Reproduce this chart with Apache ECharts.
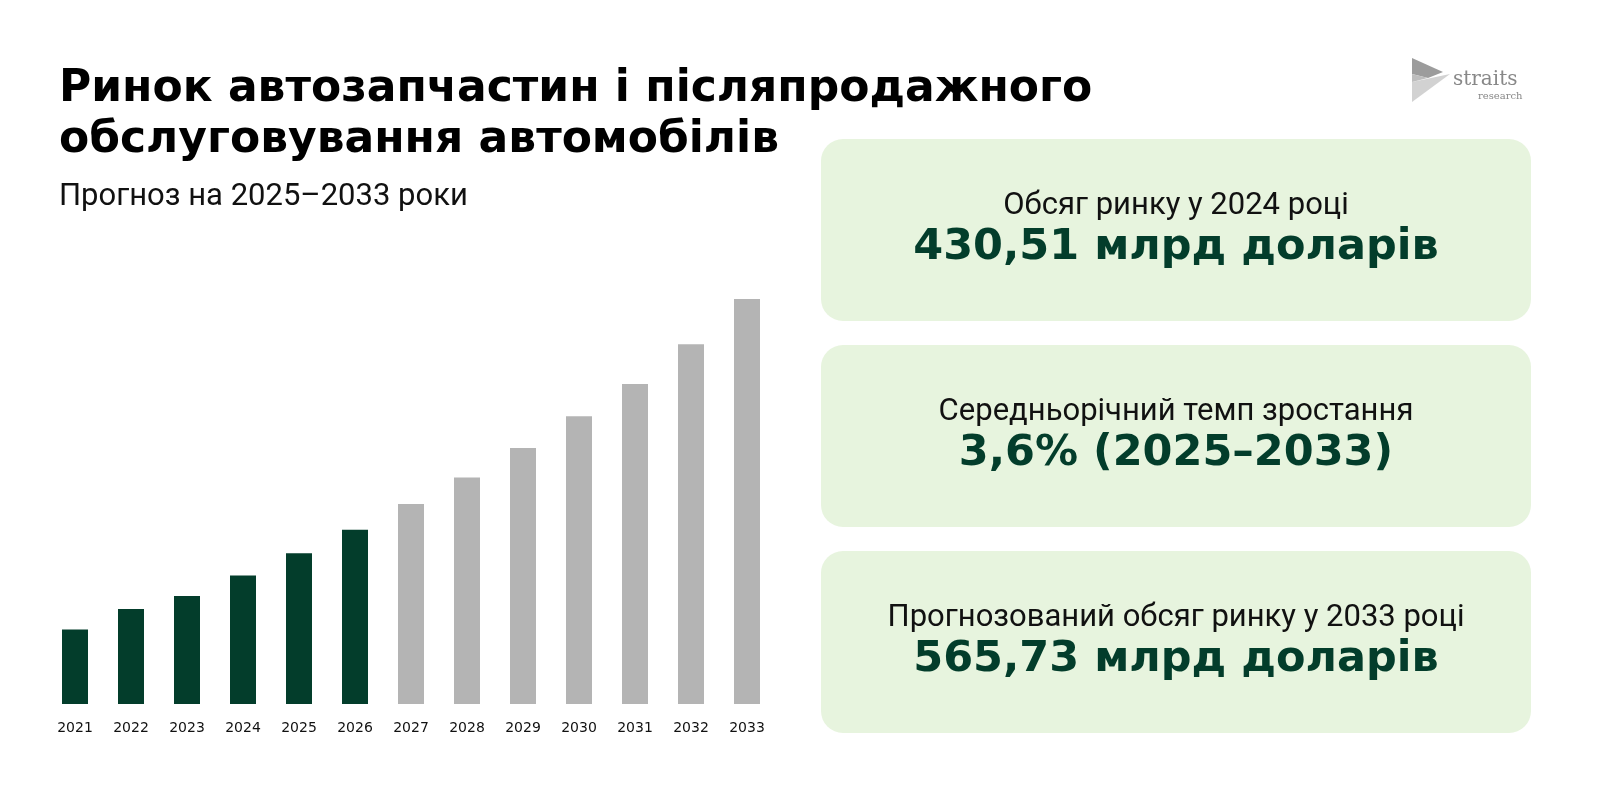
<!DOCTYPE html>
<html lang="uk">
<head>
<meta charset="utf-8">
<title>Ринок автозапчастин</title>
<script src="https://cdn.jsdelivr.net/npm/echarts@6/dist/echarts.min.js"></script>
<style>
  html, body { margin: 0; padding: 0; background: #ffffff; }
  #chart { width: 1600px; height: 795px; }
</style>
</head>
<body>
<div id="chart"></div>
<script>
// years on the x axis
const years = ['2021', '2022', '2023', '2024', '2025', '2026', '2027', '2028', '2029', '2030', '2031', '2032', '2033'];
// market size, USD bn (2024 and 2033 given, the rest)
const marketSize = [404.0, 414.1, 420.4, 430.51, 441.4, 452.9, 465.4, 478.4, 492.8, 508.4, 524.1, 543.6, 565.73];
// first forecast year (bars from here are grey)
const forecastFrom = '2027';

const cardLabels = ['Обсяг ринку у 2024 році', 'Середньорічний темп зростання', 'Прогнозований обсяг ринку у 2033 році'];
const cardValues = ['430,51 млрд доларів', '3,6% (2025–2033)', '565,73 млрд доларів'];

const GREEN = '#033d2b';
const GREY = '#b4b4b4';
const CARD_BG = '#e7f4de';

const chart = echarts.init(document.getElementById('chart'));

const forecastIdx = years.indexOf(forecastFrom);

// info cards on the right
const cardGraphics = [];
cardLabels.forEach((label, i) => {
  const top = 139 + i * 206;
  cardGraphics.push({
    type: 'rect',
    shape: { x: 821, y: top, width: 710, height: 182, r: 22 },
    style: { fill: CARD_BG }
  });
  cardGraphics.push({
    type: 'text',
    style: {
      x: 1176, y: top + 67, text: label,
      fill: '#111111', font: '31px Roboto',
      align: 'center', verticalAlign: 'middle'
    }
  });
  cardGraphics.push({
    type: 'text',
    style: {
      x: 1176, y: top + 109, text: cardValues[i],
      fill: GREEN, font: 'bold 43px "DejaVu Sans"',
      align: 'center', verticalAlign: 'middle'
    }
  });
});

// straits research logo
const logoGraphics = [
  { type: 'polygon', shape: { points: [[1412, 58], [1443, 72], [1428, 78], [1412, 74]] }, style: { fill: '#9c9c9c' } },
  { type: 'polygon', shape: { points: [[1412, 82], [1450, 74], [1412, 102]] }, style: { fill: '#d2d2d2' } },
  { type: 'polygon', shape: { points: [[1412, 74], [1428, 78], [1412, 82]] }, style: { fill: '#bdbdbd' } },
  { type: 'text', style: { x: 1453, y: 80, text: 'straits', fill: '#888888', font: '20px "DejaVu Serif"', verticalAlign: 'middle' } },
  { type: 'text', style: { x: 1478, y: 96, text: 'research', fill: '#888888', font: '10px "DejaVu Serif"', verticalAlign: 'middle' } }
];

const option = {
  backgroundColor: '#ffffff',
  animation: false,
  title: [
    {
      text: 'Ринок автозапчастин і післяпродажного\nобслуговування автомобілів',
      left: 59,
      top: 64,
      padding: 0,
      textStyle: {
        fontFamily: 'DejaVu Sans',
        fontWeight: 'bold',
        fontSize: 44,
        lineHeight: 51,
        color: '#000000'
      }
    },
    {
      text: 'Прогноз на 2025–2033 роки',
      left: 59,
      top: 182,
      padding: 0,
      textStyle: {
        fontFamily: 'Roboto',
        fontWeight: 'normal',
        fontSize: 31,
        color: '#111111'
      }
    }
  ],
  grid: {
    left: 47,
    width: 728,
    top: 299,
    bottom: 91,
    containLabel: false
  },
  xAxis: {
    type: 'category',
    data: years,
    axisLine: { show: false },
    axisTick: { show: false },
    axisLabel: {
      color: '#111111',
      fontFamily: 'DejaVu Sans',
      fontSize: 14,
      margin: 17
    }
  },
  yAxis: {
    type: 'value',
    min: 367.6,
    max: 565.73,
    show: false,
    splitLine: { show: false }
  },
  series: [
    {
      type: 'bar',
      data: marketSize,
      barWidth: 26,
      itemStyle: {
        color: params => (params.dataIndex < forecastIdx ? GREEN : GREY)
      }
    }
  ],
  graphic: [...cardGraphics, ...logoGraphics]
};

chart.setOption(option);
</script>
</body>
</html>
